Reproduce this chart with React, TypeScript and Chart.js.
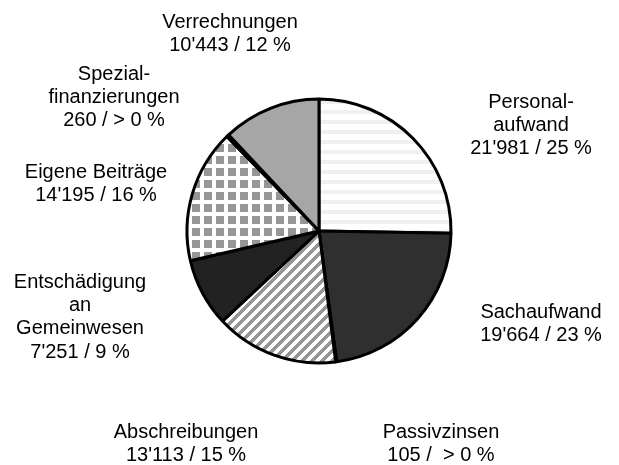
import React, { useEffect, useRef } from "react";
import { Chart, registerables } from "chart.js";

Chart.register(...registerables);

const categories = [
  "Personalaufwand",
  "Sachaufwand",
  "Passivzinsen",
  "Abschreibungen",
  "Entschädigung an Gemeinwesen",
  "Eigene Beiträge",
  "Spezialfinanzierungen",
  "Verrechnungen",
];
const values = [21981, 19664, 105, 13113, 7251, 14195, 260, 10443];
const labelLines = [
  ["Personal-", "aufwand", "21'981 / 25 %"],
  ["Sachaufwand", "19'664 / 23 %"],
  ["Passivzinsen", "105 /  > 0 %"],
  ["Abschreibungen", "13'113 / 15 %"],
  ["Entschädigung", "an", "Gemeinwesen", "7'251 / 9 %"],
  ["Eigene Beiträge", "14'195 / 16 %"],
  ["Spezial-", "finanzierungen", "260 / > 0 %"],
  ["Verrechnungen", "10'443 / 12 %"],
];
// label anchor: centre x, centre y of first line
const labelAnchors = [
  [531, 102],
  [541, 312],
  [441, 432],
  [186, 432],
  [80, 282],
  [96, 172],
  [114, 74],
  [230, 22],
];

function makeTile(size: number, draw: (ctx: CanvasRenderingContext2D) => void) {
  const c = document.createElement("canvas");
  c.width = size;
  c.height = size;
  const ctx = c.getContext("2d")!;
  draw(ctx);
  return c;
}

function buildFills(ctx: CanvasRenderingContext2D) {
  const hStripes = makeTile(10, (c) => {
    c.fillStyle = "#ffffff";
    c.fillRect(0, 0, 10, 10);
    c.fillStyle = "#f0f0f0";
    c.fillRect(0, 0, 10, 4);
  });
  const diag = makeTile(10, (c) => {
    c.fillStyle = "#ffffff";
    c.fillRect(0, 0, 10, 10);
    c.fillStyle = "#969696";
    for (let x = 0; x < 10; x++) {
      for (let y = 0; y < 10; y++) {
        if ((x + y) % 10 < 5) c.fillRect(x, y, 1, 1);
      }
    }
  });
  const grid = makeTile(12, (c) => {
    c.fillStyle = "#ffffff";
    c.fillRect(0, 0, 12, 12);
    c.fillStyle = "#969696";
    c.fillRect(0, 0, 8, 8);
  });
  return [
    ctx.createPattern(hStripes, "repeat"),
    "#2f2f2f",
    "#808080",
    ctx.createPattern(diag, "repeat"),
    "#222222",
    ctx.createPattern(grid, "repeat"),
    "#000000",
    "#a6a6a6",
  ];
}

const labelPlugin = {
  id: "sliceLabels",
  afterDraw(chart: any) {
    const ctx = chart.ctx as CanvasRenderingContext2D;
    ctx.save();
    ctx.fillStyle = "#000";
    ctx.font = '20px "Liberation Sans", Arial, sans-serif';
    ctx.textAlign = "center";
    ctx.textBaseline = "middle";
    labelLines.forEach((lines, i) => {
      const [x, y] = labelAnchors[i];
      lines.forEach((t, j) => ctx.fillText(t, x, y + j * 23.4));
    });
    ctx.restore();
  },
};

export default function App() {
  const ref = useRef<HTMLCanvasElement>(null);
  useEffect(() => {
    document.body.style.margin = "0";
    const canvas = ref.current!;
    const ctx = canvas.getContext("2d")!;
    const chart = new Chart(ctx, {
      type: "pie",
      data: {
        labels: categories,
        datasets: [
          {
            data: values,
            backgroundColor: buildFills(ctx) as any,
            borderColor: "#000000",
            borderWidth: 3,
            hoverOffset: 0,
            radius: 132,
          } as any,
        ],
      },
      options: {
        responsive: false,
        animation: false,
        devicePixelRatio: 1,
        layout: { padding: { left: 100, right: 81, top: 90, bottom: 93 } },
        plugins: {
          legend: { display: false },
          tooltip: { enabled: false },
        },
        events: [],
      },
      plugins: [labelPlugin],
    });
    return () => chart.destroy();
  }, []);
  return (
    <div style={{ width: 619, height: 465, background: "#fff" }}>
      <canvas ref={ref} width={619} height={465} style={{ display: "block" }} />
    </div>
  );
}
